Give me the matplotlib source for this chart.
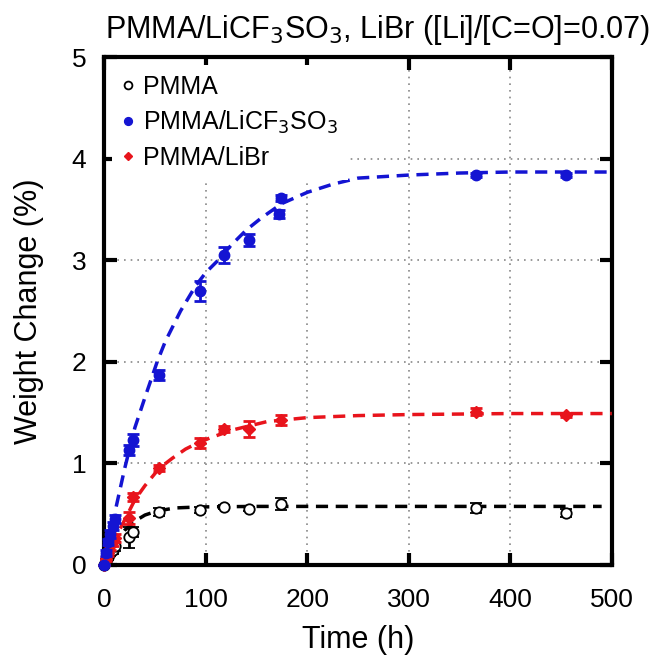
import matplotlib.pyplot as plt

plt.rcParams['font.family'] = ['Liberation Sans', 'DejaVu Sans']

# measured points (time in h, weight change in %)
pmma_t = [0, 2, 4, 6, 8, 10, 24, 28, 54, 94, 118, 142, 174, 366, 455]
pmma_y = [0, 0.04, 0.08, 0.12, 0.15, 0.18, 0.27, 0.32, 0.52, 0.54, 0.57, 0.55, 0.60, 0.56, 0.51]
pmma_e = [0, 0.02, 0.03, 0.03, 0.04, 0.04, 0.10, 0.05, 0.04, 0.03, 0.02, 0.02, 0.06, 0.05, 0.04]

cf3_t = [0, 2, 4, 6, 8, 10, 24, 28, 54, 94, 118, 142, 172, 174, 366, 455]
cf3_y = [0, 0.12, 0.22, 0.30, 0.38, 0.45, 1.13, 1.23, 1.87, 2.70, 3.05, 3.20, 3.46, 3.61, 3.84, 3.84]
cf3_e = [0, 0.03, 0.03, 0.04, 0.04, 0.04, 0.05, 0.06, 0.05, 0.10, 0.08, 0.06, 0.04, 0.03, 0.02, 0.02]

libr_t = [0, 2, 4, 6, 8, 10, 24, 28, 54, 94, 118, 142, 174, 366, 455]
libr_y = [0, 0.06, 0.12, 0.18, 0.22, 0.26, 0.46, 0.67, 0.95, 1.20, 1.34, 1.34, 1.43, 1.51, 1.48]
libr_e = [0, 0.02, 0.03, 0.03, 0.04, 0.04, 0.06, 0.04, 0.03, 0.05, 0.03, 0.08, 0.05, 0.03, 0.02]

# fitted curves
pmma_fit_t = [0, 5, 10, 20, 30, 40, 52, 70, 94, 150, 200, 300, 400, 490]
pmma_fit_y = [0, 0.10, 0.20, 0.34, 0.43, 0.49, 0.53, 0.56, 0.57, 0.575, 0.575, 0.575, 0.575, 0.575]

cf3_fit_t = [0, 10, 20, 30, 40, 52, 60, 75, 90, 100, 112, 125, 140, 155, 175, 200, 225, 250, 300, 350, 400, 450, 500]
cf3_fit_y = [0, 0.50, 0.95, 1.35, 1.65, 2.0, 2.2, 2.5, 2.75, 2.88, 3.0, 3.15, 3.30, 3.42, 3.56, 3.67, 3.75, 3.81, 3.84, 3.86, 3.87, 3.87, 3.87]

libr_fit_t = [0, 10, 21, 30, 40, 54, 67, 80, 90, 104, 127, 160, 200, 250, 300, 400, 500]
libr_fit_y = [0, 0.25, 0.46, 0.64, 0.78, 0.95, 1.05, 1.14, 1.19, 1.25, 1.33, 1.41, 1.45, 1.47, 1.48, 1.49, 1.49]

fig = plt.figure(figsize=(6.65, 6.59), dpi=100)
ax = fig.add_axes([0.157, 0.143, 0.763, 0.770])

dash = (3.5, 2.2)
ax.plot(pmma_fit_t, pmma_fit_y, color='black', lw=2.5, dashes=dash, zorder=3)
ax.plot(libr_fit_t, libr_fit_y, color='#e8141c', lw=2.5, dashes=dash, zorder=3)
ax.plot(cf3_fit_t, cf3_fit_y, color='#1414d2', lw=2.5, dashes=dash, zorder=3)

ax.errorbar(pmma_t, pmma_y, yerr=pmma_e, fmt='o', ms=7.5, mfc='white', mec='black', mew=1.3,
            ecolor='black', elinewidth=2, capsize=4, capthick=2, label='PMMA', zorder=4, clip_on=False)
ax.errorbar(libr_t, libr_y, yerr=libr_e, fmt='D', ms=6, color='#e8141c',
            elinewidth=2, capsize=4, capthick=2, label='PMMA/LiBr', zorder=5, clip_on=False)
ax.errorbar(cf3_t, cf3_y, yerr=cf3_e, fmt='o', ms=7.5, color='#1414d2',
            elinewidth=2, capsize=4, capthick=2, label='PMMA/LiCF$_3$SO$_3$', zorder=6, clip_on=False)

ax.set_xlim(0, 500)
ax.set_ylim(0, 5)
ax.set_xticks([0, 100, 200, 300, 400, 500])
ax.set_yticks([0, 1, 2, 3, 4, 5])
ax.grid(True, color='#888888', linestyle=(0, (1, 3)), lw=1.2)
for s in ax.spines.values():
    s.set_linewidth(3)
ax.tick_params(direction='in', length=9, width=3, top=True, right=True, labelsize=19)
ax.tick_params(axis='x', pad=17)
ax.tick_params(axis='y', pad=13)

ax.set_xlabel('Time (h)', fontsize=22)
ax.set_ylabel('Weight Change (%)', fontsize=22)
ax.xaxis.set_label_coords(0.5, -0.118)
ax.yaxis.set_label_coords(-0.12, 0.5)
fig.text(0.568, 0.955, 'PMMA/LiCF$_3$SO$_3$, LiBr ([Li]/[C=O]=0.07)', fontsize=22,
         ha='center', va='center')

h, l = ax.get_legend_handles_labels()
order = [0, 2, 1]
leg = ax.legend([h[i][0] for i in order], [l[i] for i in order], loc='upper left',
                fontsize=18, frameon=True, framealpha=1, edgecolor='none', fancybox=False,
                markerscale=0.75, handlelength=0.5, handletextpad=0.36, borderaxespad=0.3,
                borderpad=0.4, labelspacing=0.4)
leg.set_zorder(10)

fig.savefig('out.png', dpi=100)
